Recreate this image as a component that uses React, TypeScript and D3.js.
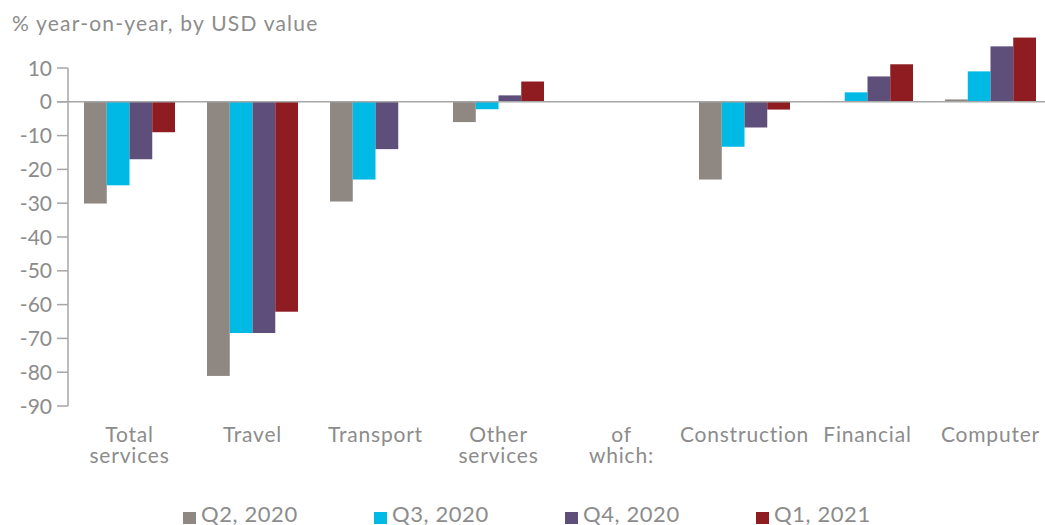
import React from "react";
import * as d3 from "d3";

const categories = ["Total services", "Travel", "Transport", "Other services", "of which:", "Construction", "Financial", "Computer"];
const categoryLines = [["Total", "services"], ["Travel"], ["Transport"], ["Other", "services"], ["of", "which:"], ["Construction"], ["Financial"], ["Computer"]];
const seriesNames = ["Q2, 2020", "Q3, 2020", "Q4, 2020", "Q1, 2021"];
const seriesColors = ["#8f8781", "#00b9e4", "#5e4e7a", "#8e1c21"];
const q2_2020 = [-30.1, -81.1, -29.5, -6.0, null, -23.0, null, 0.7];
const q3_2020 = [-24.7, -68.4, -23.0, -2.2, null, -13.3, 2.8, 9.0];
const q4_2020 = [-17.0, -68.4, -14.0, 1.9, null, -7.6, 7.5, 16.4];
const q1_2021 = [-9.0, -62.1, 0, 6.0, null, -2.3, 11.1, 19.0];
const seriesValues = [q2_2020, q3_2020, q4_2020, q1_2021];
const yTicks = [10, 0, -10, -20, -30, -40, -50, -60, -70, -80, -90];

const FONT = "Lato, 'Open Sans', sans-serif";
const TXT = "#8c8c8c";
const AXIS = "#a6a6a6";

export default function App() {
  const W = 1045, H = 525;
  const x0 = d3.scaleBand().domain(categories).range([68, 1052]).padding(0);
  const groupW = 91;
  const x1 = d3.scaleBand().domain(seriesNames).range([0, groupW]).padding(0);
  const y = d3.scaleLinear().domain([-90, 10]).range([406, 68]);
  const y0 = y(0);

  return (
    <svg width={W} height={H} style={{ position: "absolute", left: 0, top: 0, background: "#fff" }} fontFamily={FONT}>
      <text x={12} y={31} fontSize={21} fill={TXT} letterSpacing={1.2}>% year-on-year, by USD value</text>
      {seriesValues.map((vals, si) =>
        vals.map((v, ci) => {
          if (v === null || v === 0) return null;
          const bx = (x0(categories[ci]) as number) + (x0.bandwidth() - groupW) / 2 + (x1(seriesNames[si]) as number);
          const top = Math.min(y(v), y0);
          const h = Math.abs(y(v) - y0);
          return <rect key={`${si}-${ci}`} x={bx} y={top} width={x1.bandwidth()} height={h} fill={seriesColors[si]} />;
        })
      )}
      <line x1={57} x2={W} y1={y0} y2={y0} stroke={AXIS} strokeWidth={1.5} />
      <line x1={68} x2={68} y1={y(10)} y2={y(-90)} stroke={AXIS} strokeWidth={1.5} />
      {yTicks.map((t) => (
        <g key={t}>
          <line x1={57} x2={68} y1={y(t)} y2={y(t)} stroke={AXIS} strokeWidth={1.5} />
          <text x={52} y={y(t)} dy="0.36em" textAnchor="end" fontSize={21} fill={TXT}>{t}</text>
        </g>
      ))}
      {categories.map((c, ci) =>
        categoryLines[ci].map((ln, li) => (
          <text key={`${c}-${li}`} x={(x0(c) as number) + x0.bandwidth() / 2} y={442 + li * 21} textAnchor="middle" fontSize={21} fill={TXT} letterSpacing={0.8}>{ln}</text>
        ))
      )}
      {seriesNames.map((s, si) => {
        const lx = 183 + si * 191;
        return (
          <g key={s}>
            <rect x={lx} y={512} width={13} height={12} fill={seriesColors[si]} />
            <text x={lx + 18} y={522} fontSize={22} fill={TXT} letterSpacing={0.6}>{s}</text>
          </g>
        );
      })}
    </svg>
  );
}
